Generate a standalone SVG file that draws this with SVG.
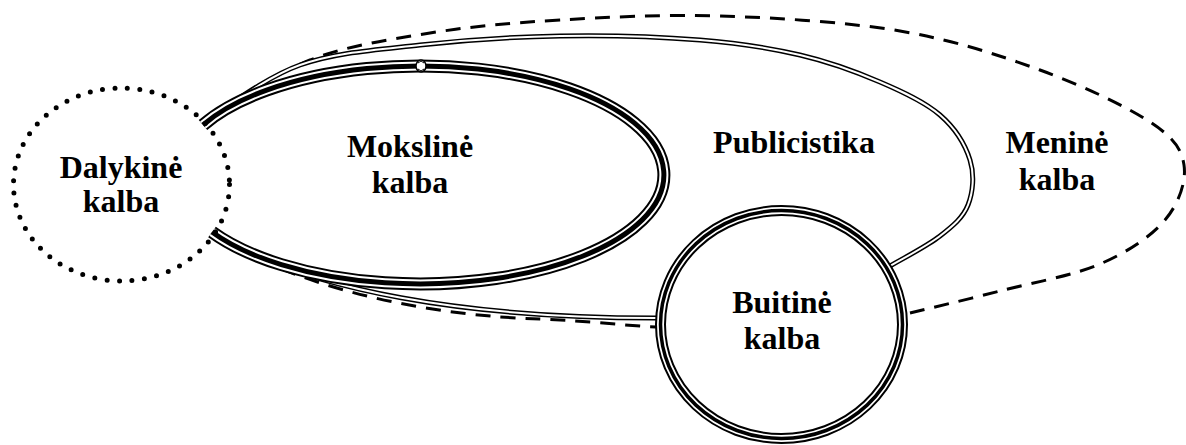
<svg xmlns="http://www.w3.org/2000/svg" width="1186" height="445" viewBox="0 0 1186 445">
<style>
.t{font-family:"Liberation Serif","Times New Roman",serif;font-weight:bold;font-size:32px;fill:#000;text-anchor:middle}
.dash{fill:none;stroke:#000;stroke-width:3;stroke-dasharray:15 10}
.dblB{fill:none;stroke:#000;stroke-width:5}
.dblW{fill:none;stroke:#fff;stroke-width:2}
.trB{fill:none;stroke:#000;stroke-width:13}
.trW{fill:none;stroke:#fff;stroke-width:9}
.trC{fill:none;stroke:#000;stroke-width:5}
</style>
<defs>
<path id="pubTop" d="M205,121 C220.8,111.7 264.2,77.7 300,65 C335.8,52.3 376.7,49.8 420,45 C463.3,40.2 513.3,36.8 560,36 C606.7,35.2 660,36.8 700,40 C740,43.2 770,48 800,55 C830,62 856.7,72 880,82 C903.3,92 925,102 940,115 C955,128 965.3,145 970,160 C974.7,175 973,192.3 968,205 C963,217.7 953,225.8 940,236 C927,246.2 898.3,261 890,266"/>
<path id="pubBot" d="M213,234 C310,292 470,318 656,318"/>
<path id="mok" d="M203,125 A244 109 0 1 1 212,232"/>
</defs>
<g id="connectors">
<path class="dash" d="M910,313 C925,309.3 968.3,299.2 1000,291 C1031.7,282.8 1072.5,275.8 1100,264 C1127.5,252.2 1151,236.5 1165,220 C1179,203.5 1186.5,181.3 1184,165 C1181.5,148.7 1174,137.8 1150,122 C1126,106.2 1081.7,85.2 1040,70 C998.3,54.8 953.3,40 900,31 C846.7,22 776.7,17.8 720,16 C663.3,14.2 608.3,17.2 560,20 C511.7,22.8 471.7,26.3 430,33 C388.3,39.7 347.5,45.5 310,60 C272.5,74.5 222.5,110 205,120"/>
<path class="dash" d="M214,236 C311,294 440,316 540,319 C590,321 630,326 656,327"/>
</g>
<g id="publicistika">
<use href="#pubTop" class="dblB"/><use href="#pubTop" class="dblW"/>
<use href="#pubBot" class="dblB"/><use href="#pubBot" class="dblW"/>
<text class="t" x="794" y="153">Publicistika</text>
</g>
<g id="menine">
<text class="t" x="1057" y="153">Meninė</text>
<text class="t" x="1057" y="190">kalba</text>
</g>
<g id="moksline">
<use href="#mok" class="trB"/><use href="#mok" class="trW"/><use href="#mok" class="trC"/>
<ellipse cx="421" cy="66" rx="5" ry="6" fill="#fff" stroke="#000" stroke-width="1.5"/>
<path d="M418,63 L421,61 L424,63 M418,69 L421,71 L424,69" fill="none" stroke="#000" stroke-width="1"/>
<text class="t" x="410" y="157">Mokslinė</text>
<text class="t" x="410" y="193">kalba</text>
</g>
<g id="dalykine">
<ellipse cx="121.5" cy="184.5" rx="108" ry="96.5" fill="none" stroke="#000" stroke-width="5" stroke-linecap="round" stroke-dasharray="0 12.5"/>
<text class="t" x="121" y="178">Dalykinė</text>
<text class="t" x="121" y="212">kalba</text>
</g>
<g id="buitine">
<ellipse cx="781.5" cy="324.5" rx="121" ry="114" fill="#fff" stroke="#000" stroke-width="11"/>
<ellipse cx="781.5" cy="324.5" rx="121" ry="114" fill="none" stroke="#fff" stroke-width="7"/>
<ellipse cx="781.5" cy="324.5" rx="121" ry="114" fill="none" stroke="#000" stroke-width="3.5"/>
<text class="t" x="782" y="313">Buitinė</text>
<text class="t" x="782" y="349">kalba</text>
</g>
</svg>
